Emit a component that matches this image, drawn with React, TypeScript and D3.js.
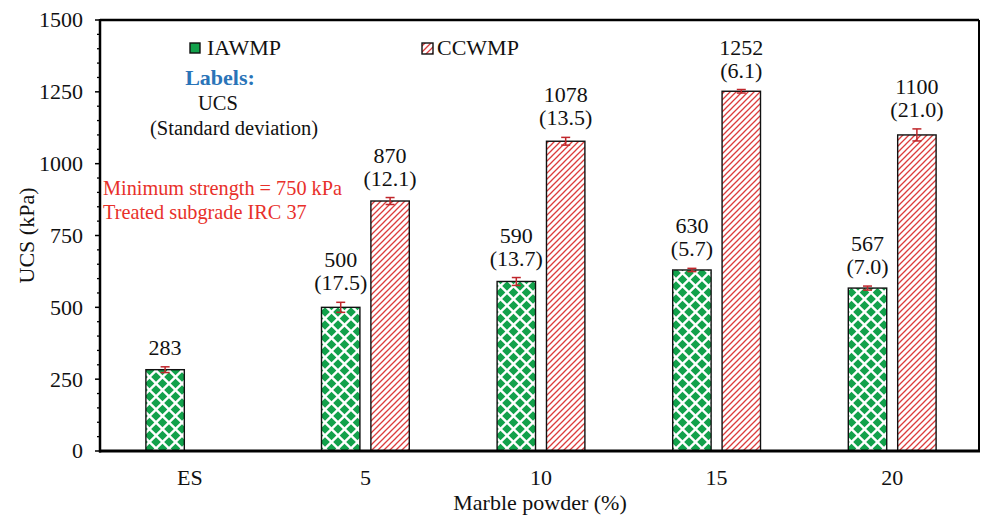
import React from "react";
import * as d3 from "d3";

const categories = ["ES", "5", "10", "15", "20"];
const seriesNames = ["IAWMP", "CCWMP"];
const iawmpValues = [283, 500, 590, 630, 567];
const iawmpSD = [10, 17.5, 13.7, 5.7, 7.0];
const iawmpShowSD = [false, true, true, true, true];
const ccwmpValues: (number | null)[] = [null, 870, 1078, 1252, 1100];
const ccwmpSD: (number | null)[] = [null, 12.1, 13.5, 6.1, 21.0];
const yTicks = [0, 250, 500, 750, 1000, 1250, 1500];
const yMinorStep = 50;
const yTitle = "UCS (kPa)";
const xTitle = "Marble powder (%)";
const noteLines = ["Minimum strength = 750 kPa", "Treated subgrade IRC 37"];
const labelsLines = ["Labels:", "UCS", "(Standard deviation)"];

const W = 982;
const H = 515;
const FONT = '"Liberation Serif", Tinos, "Times New Roman", Times, "DejaVu Serif", serif';
const GREEN = "#12a14b";
const RED = "#dc3c3c";
const ERR = "#c0262b";

const T = (props: any) => (
  <text {...props} style={{ fontFamily: FONT, fontSize: props.fontSize ?? 22 }}>
    {props.children}
  </text>
);

export default function App() {
  const left = 100, right = 979, top = 20, bottom = 451;
  const y = d3.scaleLinear().domain([0, 1500]).range([bottom, top]);
  const x = d3.scaleBand<string>().domain(categories).range([102, 980]).padding(0);
  const bw = x.bandwidth();
  const x1 = d3
    .scaleBand<string>()
    .domain(seriesNames)
    .range([bw * 0.25, bw * 0.75])
    .paddingInner(0.222)
    .paddingOuter(0);
  const barW = x1.bandwidth();
  const minor = d3.range(0, 1500 + 1, yMinorStep).filter((v) => !yTicks.includes(v));

  const bars: any[] = [];
  categories.forEach((c, i) => {
    bars.push({ cat: c, s: "IAWMP", v: iawmpValues[i], sd: iawmpSD[i], showSD: iawmpShowSD[i] });
    if (ccwmpValues[i] != null)
      bars.push({ cat: c, s: "CCWMP", v: ccwmpValues[i], sd: ccwmpSD[i], showSD: true });
  });

  const hd = 4.8;
  const diamond = (cx: number, cy: number) =>
    `${cx},${cy - hd} ${cx + hd},${cy} ${cx},${cy + hd} ${cx - hd},${cy}`;

  return (
    <div style={{ position: "fixed", left: 0, top: 0 }}>
      <svg width={W} height={H} style={{ display: "block", background: "#fff", fontFamily: FONT }}>
        <defs>
          <pattern id="diam" patternUnits="userSpaceOnUse" width={13} height={13}>
            <rect width={13} height={13} fill="#fff" />
            <polygon points={diamond(6.5, 6.5)} fill={GREEN} />
            <polygon points={diamond(0, 0)} fill={GREEN} />
            <polygon points={diamond(13, 0)} fill={GREEN} />
            <polygon points={diamond(0, 13)} fill={GREEN} />
            <polygon points={diamond(13, 13)} fill={GREEN} />
          </pattern>
          <pattern id="hatch" patternUnits="userSpaceOnUse" width={6} height={6}>
            <rect width={6} height={6} fill="#fff" />
            <path d="M0,6 L6,0 M-1,1 L1,-1 M5,7 L7,5" stroke={RED} strokeWidth={1.3} />
          </pattern>
        </defs>

        {bars.map((b, i) => {
          const bx = (x(b.cat) as number) + (x1(b.s) as number);
          const by = y(b.v);
          return (
            <rect
              key={"b" + i}
              x={bx}
              y={by}
              width={barW}
              height={bottom - by}
              fill={b.s === "IAWMP" ? "url(#diam)" : "url(#hatch)"}
              stroke="#111"
              strokeWidth={1.4}
            />
          );
        })}

        {bars.map((b, i) => {
          const cx = (x(b.cat) as number) + (x1(b.s) as number) + barW / 2;
          const yt = y(b.v + b.sd);
          const yb = y(b.v - b.sd);
          const sdBase = yt - 12;
          const valBase = b.showSD ? sdBase - 23 : sdBase;
          return (
            <g key={"e" + i}>
              <line x1={cx} x2={cx} y1={yt} y2={yb} stroke={ERR} strokeWidth={1.5} />
              <line x1={cx - 4.5} x2={cx + 4.5} y1={yt} y2={yt} stroke={ERR} strokeWidth={1.5} />
              <line x1={cx - 4.5} x2={cx + 4.5} y1={yb} y2={yb} stroke={ERR} strokeWidth={1.5} />
              <T x={cx} y={valBase} textAnchor="middle" fill="#111">
                {String(b.v)}
              </T>
              {b.showSD && (
                <T x={cx} y={sdBase} textAnchor="middle" fill="#111">
                  {"(" + b.sd.toFixed(1) + ")"}
                </T>
              )}
            </g>
          );
        })}

        <line x1={left} x2={right} y1={top} y2={top} stroke="#000" strokeWidth={2.5} />
        <line x1={right} x2={right} y1={top} y2={bottom} stroke="#000" strokeWidth={2} />
        <line x1={left} x2={left} y1={top - 1} y2={bottom + 1.5} stroke="#000" strokeWidth={2.5} />
        <line x1={left - 1} x2={right + 1} y1={bottom} y2={bottom} stroke="#000" strokeWidth={3} />

        {minor.map((v) => (
          <line key={"m" + v} x1={left - 3} x2={left} y1={y(v)} y2={y(v)} stroke="#000" strokeWidth={1.3} />
        ))}
        {yTicks.map((v) => (
          <g key={"t" + v}>
            <line x1={left - 5} x2={left} y1={y(v)} y2={y(v)} stroke="#000" strokeWidth={1.5} />
            <T x={83} y={y(v)} dy="0.34em" textAnchor="end" fill="#111">
              {v}
            </T>
          </g>
        ))}

        {categories.map((c) => (
          <T key={"x" + c} x={(x(c) as number) + bw / 2} y={485} textAnchor="middle" fill="#111">
            {c}
          </T>
        ))}

        <T x={540} y={510} textAnchor="middle" fill="#111">
          {xTitle}
        </T>
        <T transform={`translate(34,${(top + bottom) / 2}) rotate(-90)`} textAnchor="middle" fill="#111">
          {yTitle}
        </T>

        <rect x={190} y={43} width={10} height={10} fill={GREEN} stroke="#111" strokeWidth={1.4} />
        <T x={207} y={55} fill="#111">
          {seriesNames[0]}
        </T>
        <rect x={422} y={43} width={11} height={11} fill="url(#hatch)" stroke="#111" strokeWidth={1.4} />
        <T x={437} y={55} fill="#111">
          {seriesNames[1]}
        </T>

        <T x={220} y={85} textAnchor="middle" fontWeight="bold" fill="#2a74b8">
          {labelsLines[0]}
        </T>
        <T x={218} y={110} textAnchor="middle" fill="#111" fontSize={20.5}>
          {labelsLines[1]}
        </T>
        <T x={234} y={135} textAnchor="middle" fill="#111" fontSize={20.5}>
          {labelsLines[2]}
        </T>

        <T x={103} y={195} fill="#e8302a" fontSize={20.3}>
          {noteLines[0]}
        </T>
        <T x={103} y={219} fill="#e8302a" fontSize={20.3}>
          {noteLines[1]}
        </T>
      </svg>
    </div>
  );
}
